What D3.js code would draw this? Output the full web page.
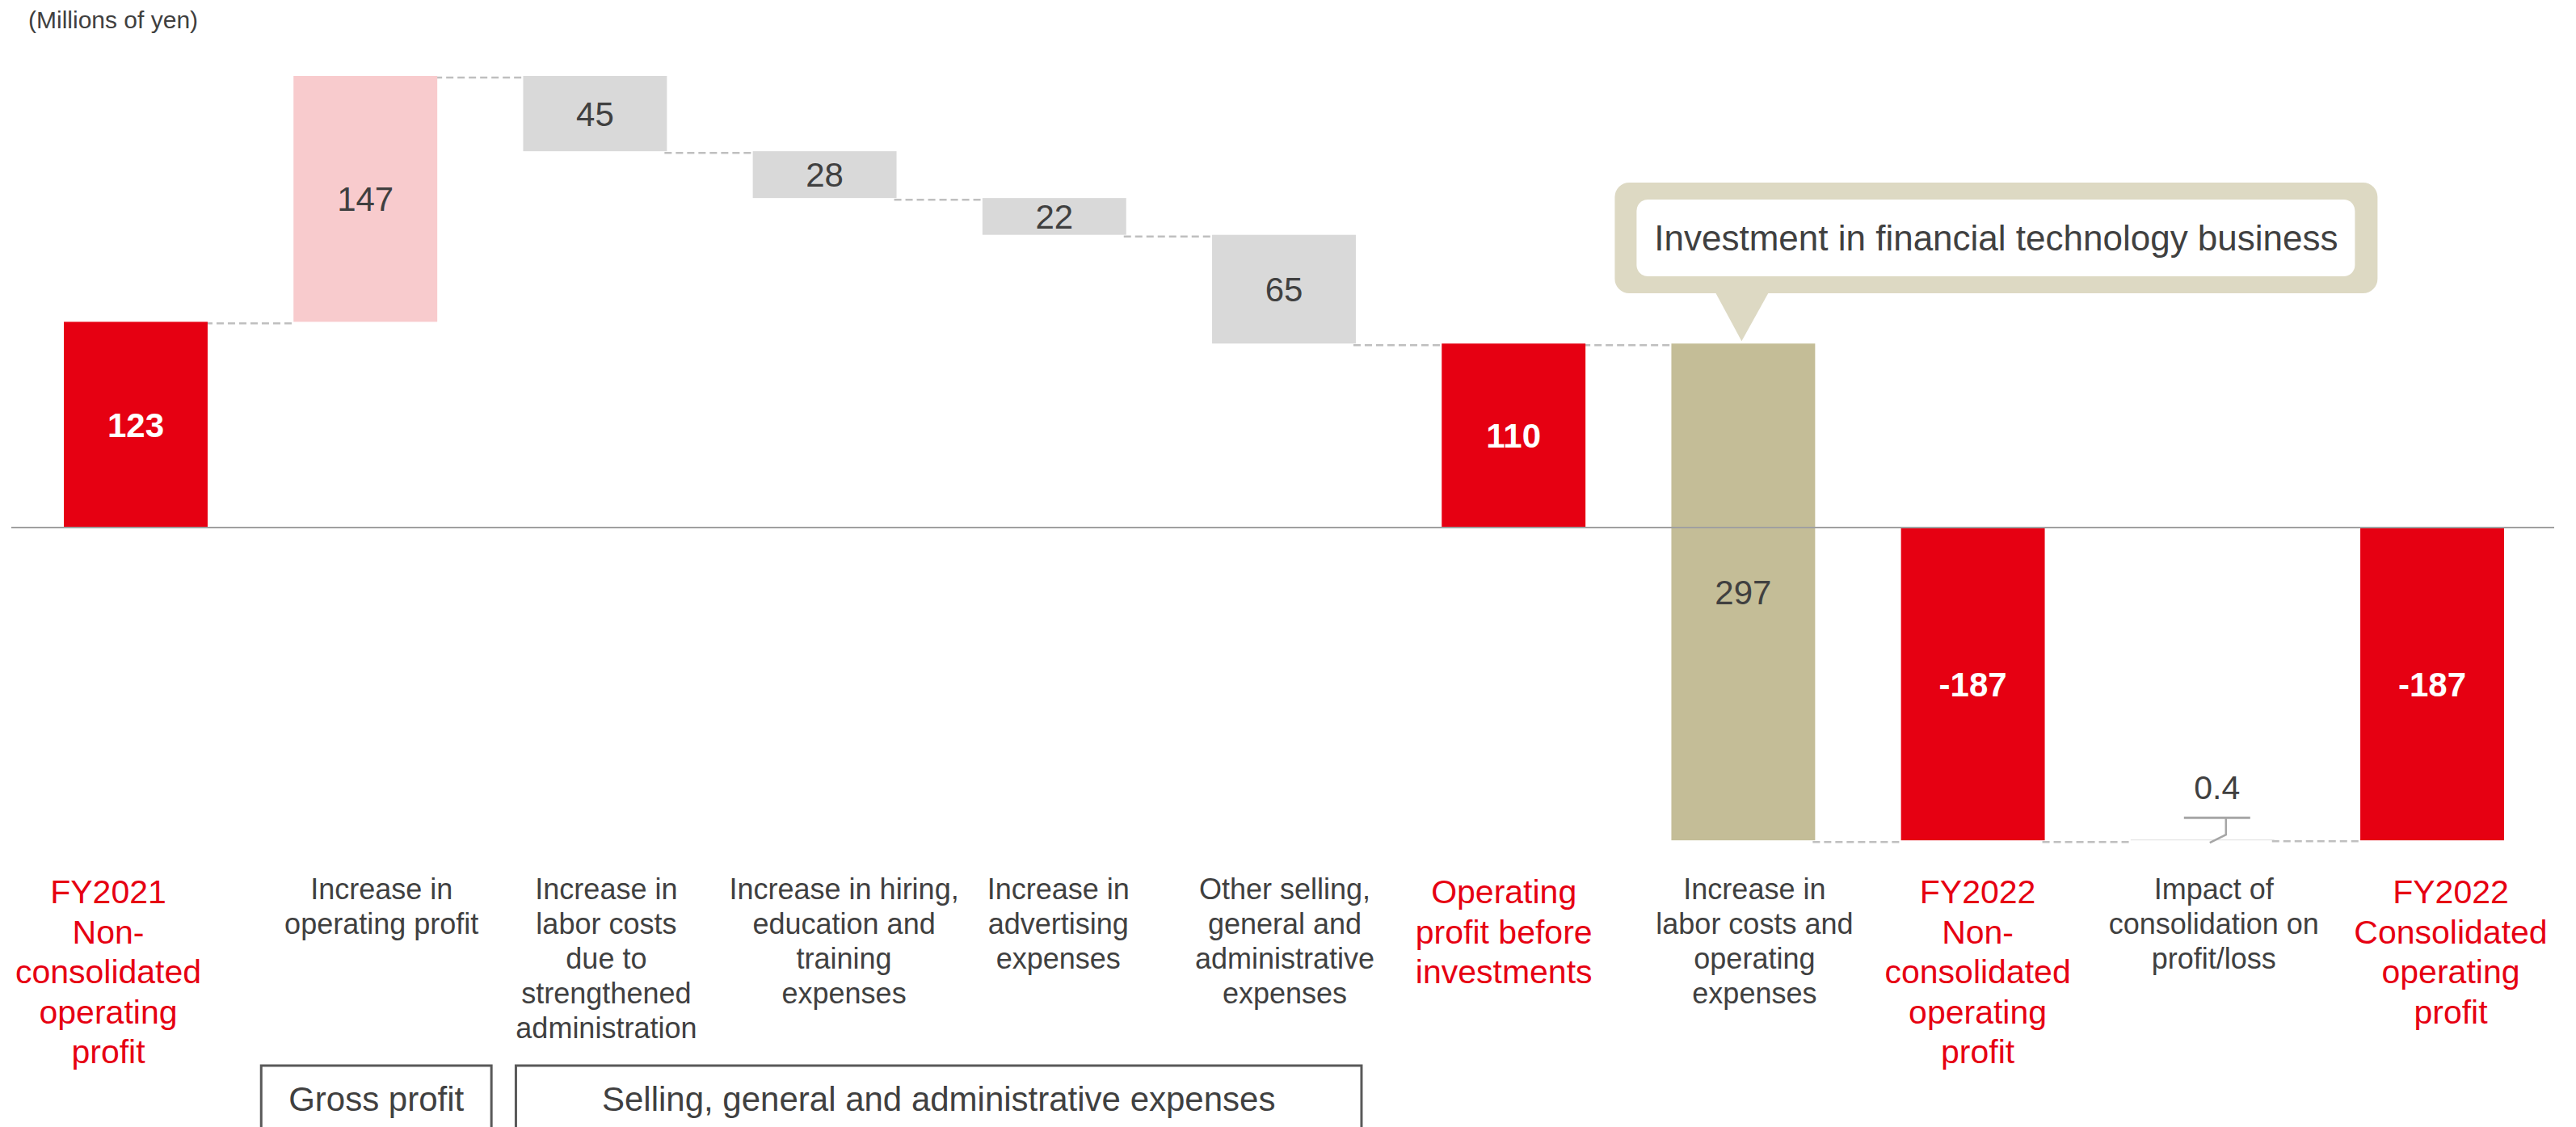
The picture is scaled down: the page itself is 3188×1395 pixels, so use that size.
<!DOCTYPE html>
<html>
<head>
<meta charset="utf-8">
<script src="https://cdn.jsdelivr.net/npm/d3@7/dist/d3.min.js"></script>
<style>
  html, body { margin: 0; padding: 0; background: #ffffff; }
  svg { display: block; }
  text { font-family: "Liberation Sans", Arial, Helvetica, sans-serif; }
</style>
</head>
<body>
<svg id="chart" width="3188" height="1395"></svg>
<script>
// ---- Data (millions of yen) ----
const categories = [
  "fy2021", "grossProfit", "laborAdmin", "hiring", "advertising", "otherSGA",
  "beforeInvest", "fintech", "fy2022NonCons", "consImpact", "fy2022Cons"
];
const kinds = [
  "total", "increase", "decrease", "decrease", "decrease", "decrease",
  "total", "investment", "total", "adjust", "total"
];
const values = [123, 147, 45, 28, 22, 65, 110, 297, -187, 0.4, -187];
const valueLabels = ["123", "147", "45", "28", "22", "65", "110", "297", "-187", "0.4", "-187"];
const categoryLines = [
  ["FY2021", "Non-", "consolidated", "operating", "profit"],
  ["Increase in", "operating profit"],
  ["Increase in", "labor costs", "due to", "strengthened", "administration"],
  ["Increase in hiring,", "education and", "training", "expenses"],
  ["Increase in", "advertising", "expenses"],
  ["Other selling,", "general and", "administrative", "expenses"],
  ["Operating", "profit before", "investments"],
  ["Increase in", "labor costs and", "operating", "expenses"],
  ["FY2022", "Non-", "consolidated", "operating", "profit"],
  ["Impact of", "consolidation on", "profit/loss"],
  ["FY2022", "Consolidated", "operating", "profit"]
];
const groups = [
  { name: "Gross profit", from: "grossProfit", to: "grossProfit" },
  { name: "Selling, general and administrative expenses", from: "laborAdmin", to: "otherSGA" }
];
const unitLabel = "(Millions of yen)";
const calloutText = "Investment in financial technology business";

// ---- Layout & style ----
const RED = "#E60012", PINK = "#F8CBCD", GREY = "#D9D9D9", TAN = "#C4BD97",
      TAN_LIGHT = "#DDD9C3", TEXT = "#404040";
const fillFor = { total: RED, increase: PINK, decrease: GREY, investment: TAN, adjust: GREY };
// small horizontal nudges of the category captions relative to bar centres
const captionShift = [-34, 20, 14, 24, 5, 1, -12, 14, 6, 14, 23];
// how far each group frame reaches beyond its first / last bar
const groupPad = [[40, 67], [9, 7]];

const svg = d3.select("#chart");

const x = d3.scaleBand()
  .domain(categories)
  .range([25.9, 3152.1])
  .paddingInner(0.374)
  .paddingOuter(0.187);

const y = d3.scaleLinear().domain([0, 270]).range([653, 94]);

// running totals -> floating bar extents
let running = 0;
const bars = categories.map((c, i) => {
  const k = kinds[i], v = values[i];
  let start, end;
  if (k === "total") { start = 0; end = v; }
  else if (k === "increase" || k === "adjust") { start = running; end = running + v; }
  else { start = running; end = running - v; }
  running = end;
  return { key: c, kind: k, start, end, level: end, label: valueLabels[i], i };
});

// unit label
svg.append("text")
  .attr("x", 35).attr("y", 35)
  .attr("font-size", 30).attr("fill", TEXT)
  .text(unitLabel);

// connectors (dashed)
const conn = svg.append("g")
  .attr("stroke", "#BFBFBF").attr("stroke-width", 2.5)
  .attr("stroke-dasharray", "9,5").attr("fill", "none");
bars.slice(0, -1).forEach((b, i) => {
  const nxt = bars[i + 1];
  conn.append("line")
    .attr("x1", x(b.key) + x.bandwidth() - 3)
    .attr("x2", x(nxt.key))
    .attr("y1", y(b.level) + 2)
    .attr("y2", y(b.level) + 2);
});

// bars
svg.append("g").selectAll("rect")
  .data(bars)
  .join("rect")
  .attr("x", d => x(d.key))
  .attr("width", x.bandwidth())
  .attr("y", d => y(Math.max(d.start, d.end)))
  .attr("height", d => Math.max(0.8, Math.abs(y(d.start) - y(d.end))))
  .attr("fill", d => fillFor[d.kind]);

// zero line
svg.append("line")
  .attr("x1", 14).attr("x2", 3161)
  .attr("y1", y(0)).attr("y2", y(0))
  .attr("stroke", "#A0A0A0").attr("stroke-width", 2);

// value labels inside bars
svg.append("g").selectAll("text")
  .data(bars.filter(d => d.kind !== "adjust"))
  .join("text")
  .attr("x", d => x(d.key) + x.bandwidth() / 2)
  .attr("y", d => (y(d.start) + y(d.end)) / 2)
  .attr("dy", "0.36em")
  .attr("text-anchor", "middle")
  .attr("font-size", 42)
  .attr("font-weight", d => d.kind === "total" ? "bold" : "normal")
  .attr("fill", d => d.kind === "total" ? "#ffffff" : TEXT)
  .text(d => d.label);

// small adjustment bar: value with a leader mark
bars.filter(d => d.kind === "adjust").forEach(d => {
  const cx = x(d.key) + x.bandwidth() / 2 + 18;
  const yb = y(d.start);
  const g = svg.append("g");
  g.append("line")
    .attr("x1", cx - 41).attr("x2", cx + 41)
    .attr("y1", yb - 28).attr("y2", yb - 28)
    .attr("stroke", "#A6A6A6").attr("stroke-width", 3);
  g.append("path")
    .attr("d", `M${cx + 11},${yb - 28}V${yb - 7}L${cx - 9},${yb + 3}`)
    .attr("fill", "none").attr("stroke", "#A6A6A6").attr("stroke-width", 2.5);
  g.append("text")
    .attr("x", cx).attr("y", yb - 51)
    .attr("text-anchor", "middle")
    .attr("font-size", 41).attr("fill", TEXT)
    .text(d.label);
});

// callout above the investment bar
bars.filter(d => d.kind === "investment").forEach(d => {
  const cx = x(d.key) + x.bandwidth() / 2;
  const tipY = y(d.start) - 3;
  const bx0 = cx - 159, bx1 = cx + 785, by0 = 226, by1 = 363, r = 18;
  const g = svg.append("g");
  g.append("rect")
    .attr("x", bx0).attr("y", by0)
    .attr("width", bx1 - bx0).attr("height", by1 - by0)
    .attr("rx", r).attr("fill", TAN_LIGHT);
  g.append("path")
    .attr("d", `M${cx - 35},${by1 - 2}L${cx + 32},${by1 - 2}L${cx - 2},${tipY}Z`)
    .attr("fill", TAN_LIGHT);
  g.append("rect")
    .attr("x", bx0 + 27).attr("y", by0 + 21)
    .attr("width", bx1 - bx0 - 55).attr("height", by1 - by0 - 42)
    .attr("rx", 14).attr("fill", "#ffffff");
  g.append("text")
    .attr("x", (bx0 + bx1) / 2).attr("y", 310)
    .attr("text-anchor", "middle")
    .attr("font-size", 44).attr("fill", TEXT)
    .text(calloutText);
});

// category captions
const capG = svg.append("g");
bars.forEach((b, i) => {
  const isTotal = b.kind === "total";
  const t = capG.append("text")
    .attr("text-anchor", "middle")
    .attr("font-size", isTotal ? 41 : 36)
    .attr("fill", isTotal ? RED : TEXT);
  const cx = x(b.key) + x.bandwidth() / 2 + captionShift[i];
  const y0 = isTotal ? 1118 : 1113;
  const lh = isTotal ? 49.6 : 43.1;
  categoryLines[i].forEach((line, j) => {
    t.append("tspan").attr("x", cx).attr("y", y0 + j * lh).text(line);
  });
});

// group frames under the captions
const grpG = svg.append("g");
groups.forEach((gp, gi) => {
  const left = x(gp.from) - groupPad[gi][0];
  const right = x(gp.to) + x.bandwidth() + groupPad[gi][1];
  grpG.append("rect")
    .attr("x", left).attr("y", 1319)
    .attr("width", right - left).attr("height", 140)
    .attr("fill", "none").attr("stroke", "#595959").attr("stroke-width", 3);
  grpG.append("text")
    .attr("x", (left + right) / 2).attr("y", 1375)
    .attr("text-anchor", "middle")
    .attr("font-size", 42).attr("fill", TEXT)
    .text(gp.name);
});
</script>
</body>
</html>
